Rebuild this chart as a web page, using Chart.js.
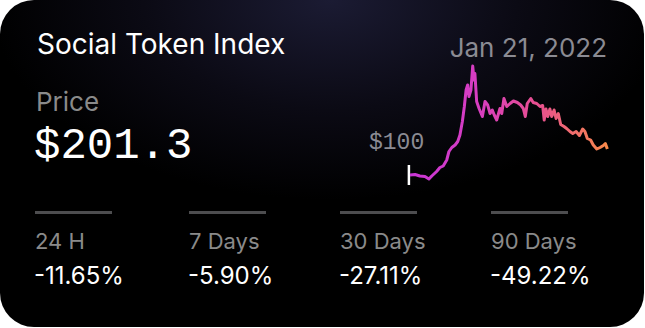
<!DOCTYPE html>
<html lang="en">

<head>
    <meta charset="UTF-8">
    <title>Social Token Index</title>
    <script src="https://cdn.jsdelivr.net/npm/chart.js"></script>
    <style>
        body {
            margin: 0;
            background: #fff;
            font-family: Inter, "Noto Sans", sans-serif;
        }

        .card {
            position: absolute;
            left: 0;
            top: 0;
            width: 644px;
            height: 327px;
            border-radius: 34px;
            overflow: hidden;
            background: radial-gradient(ellipse 340px 200px at 330px 0px, #1b1b33 0%, #0b0a14 55%, #000 100%);
        }

        .txt {
            position: absolute;
            white-space: nowrap;
        }

        .title {
            left: 37px;
            top: 27px;
            font-size: 28px;
            color: #fff;
        }

        .date {
            right: 37px;
            top: 32px;
            font-size: 26px;
            color: #8b8b93;
        }

        .plabel {
            left: 36px;
            top: 86px;
            font-size: 26px;
            color: #8a8a8a;
        }

        .price {
            left: 34px;
            top: 121px;
            font-family: "Liberation Mono", "DejaVu Sans Mono", monospace;
            font-size: 44px;
            color: #fff;
        }

        .ref {
            left: 369px;
            top: 130px;
            font-family: "Liberation Mono", "DejaVu Sans Mono", monospace;
            font-size: 23px;
            color: #8b8b93;
        }

        .rule {
            position: absolute;
            top: 211px;
            width: 77px;
            height: 3px;
            background: #4d4d4f;
        }

        .slabel {
            top: 228px;
            font-size: 22px;
            color: #8a8a8a;
        }

        .sval {
            top: 261px;
            font-size: 24px;
            color: #fff;
        }

        #chart {
            position: absolute;
            left: 395px;
            top: 50px;
        }
    </style>
</head>

<body>
    <div class="card">
        <div class="txt title">Social Token Index</div>
        <div class="txt date">Jan 21, 2022</div>
        <div class="txt plabel">Price</div>
        <div class="txt price">$201.3</div>
        <div class="txt ref">$100</div>
        <div id="stats"></div>
        <canvas id="chart" width="230" height="150"></canvas>
    </div>

    <script>
        // price history (day, price)
        const days = [0, 2.3, 4.5, 6.8, 8.6, 9.9, 12.1, 13.6, 15.1, 16.7, 17.7, 19.0, 20.5, 21.7, 22.7, 23.8, 24.7, 25.5, 26.2,
            26.8, 27.7, 28.5, 29.1, 29.5, 30.3, 31.4, 32.9, 34.1, 35.3, 36.4, 37.4, 38.3, 39.4, 40.9, 41.7, 42.7, 44.0, 45.5,
            47.0, 48.8, 50.3, 51.5, 52.4, 53.3, 54.9, 56.0, 57.6, 59.1, 60.3, 61.0, 61.8, 62.6, 63.6, 64.4, 65.5, 66.4, 67.4,
            68.5, 70.0, 71.2, 72.7, 74.0, 75.5, 77.0, 78.5, 79.5, 80.6, 82.1, 83.3, 84.9, 86.4, 87.9, 88.8, 89.7];
        const prices = [100, 101, 98, 97, 92, 98, 107, 115, 118, 130, 147, 155, 160, 167, 180, 207, 237, 270, 280,
            257, 270, 318, 290, 303, 247, 233, 217, 247, 240, 223, 230, 220, 210, 233, 223, 253, 237, 243,
            248, 245, 240, 233, 217, 243, 253, 245, 243, 237, 239, 210, 232, 217, 232, 217, 230, 213, 223,
            201, 197, 193, 187, 183, 187, 179, 192, 187, 173, 170, 160, 152, 155, 159, 163, 152];

        // white start marker
        const markerDays = [-0.5, -0.5];
        const markerPrices = [80, 120];

        const periods = ['24 H', '7 Days', '30 Days', '90 Days'];
        const changes = ['-11.65%', '-5.90%', '-27.11%', '-49.22%'];
        const colX = [35, 189, 340, 491];

        const stats = document.getElementById('stats');
        periods.forEach((p, i) => {
            stats.insertAdjacentHTML('beforeend',
                `<div class="rule" style="left:${colX[i]}px"></div>` +
                `<div class="txt slabel" style="left:${colX[i]}px">${p}</div>` +
                `<div class="txt sval" style="left:${colX[i] - 1}px">${changes[i]}</div>`);
        });

        function lineGradient(context) {
            const area = context.chart.chartArea;
            if (!area) return '#cc3fcc';
            const g = context.chart.ctx.createLinearGradient(area.left, 0, area.right, 0);
            g.addColorStop(0, '#c936d6');
            g.addColorStop(0.35, '#d83ec0');
            g.addColorStop(0.65, '#e8508f');
            g.addColorStop(1, '#f98a4a');
            return g;
        }

        const ctx = document.getElementById('chart').getContext('2d');
        new Chart(ctx, {
            type: 'line',
            data: {
                datasets: [{
                    data: days.map((d, i) => ({ x: d, y: prices[i] })),
                    borderColor: lineGradient,
                    borderWidth: 3,
                    borderJoinStyle: 'round',
                    pointRadius: 0,
                    tension: 0,
                    clip: false
                }, {
                    data: markerDays.map((d, i) => ({ x: d, y: markerPrices[i] })),
                    borderColor: '#ffffff',
                    borderWidth: 2.5,
                    pointRadius: 0,
                    clip: false
                }]
            },
            options: {
                responsive: false,
                animation: false,
                layout: {
                    padding: { left: 15, right: 17, top: 15, bottom: 15 }
                },
                scales: {
                    x: { type: 'linear', display: false, min: 0, max: 90 },
                    y: { display: false, min: 80, max: 320 }
                },
                plugins: {
                    legend: { display: false },
                    tooltip: { enabled: false }
                }
            }
        });
    </script>

</body>

</html>
